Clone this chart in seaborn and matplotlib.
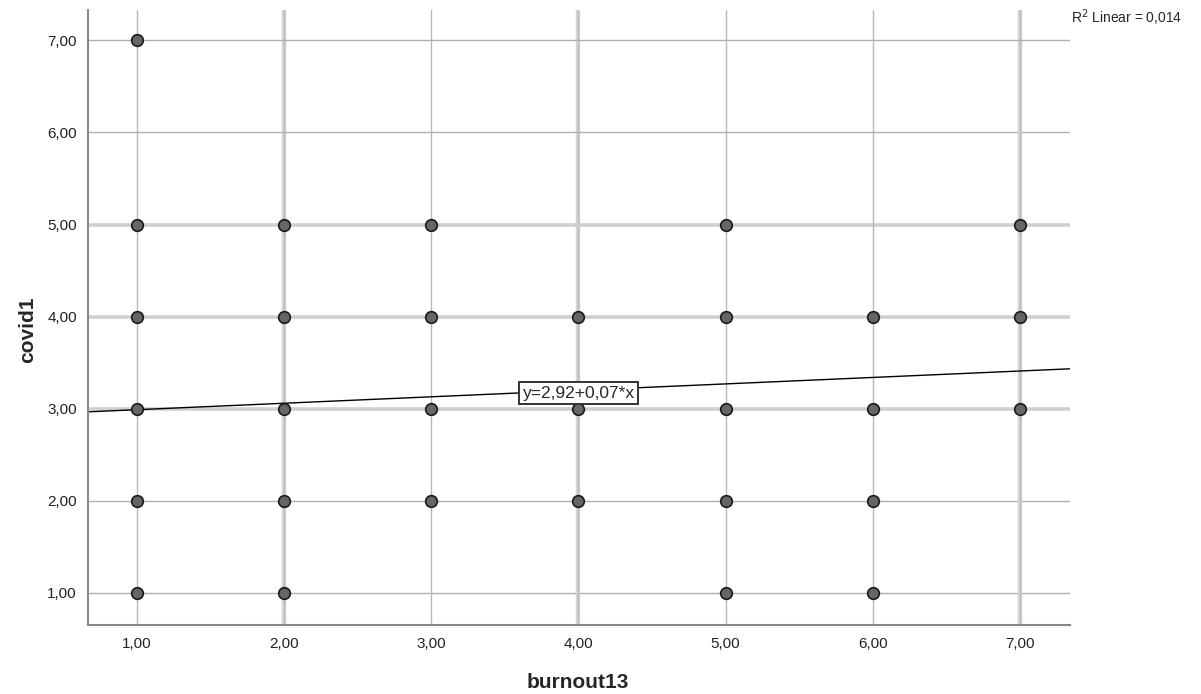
import matplotlib
matplotlib.use("Agg")
import matplotlib.pyplot as plt
import seaborn as sns
import pandas as pd

burnout13 = [1, 1, 1, 1, 1, 1,
             2, 2, 2, 2, 2,
             3, 3, 3, 3,
             4, 4, 4,
             5, 5, 5, 5, 5,
             6, 6, 6, 6,
             7, 7, 7]
covid1 = [7, 5, 4, 3, 2, 1,
          5, 4, 3, 2, 1,
          5, 4, 3, 2,
          4, 3, 2,
          5, 4, 3, 2, 1,
          4, 3, 2, 1,
          5, 4, 3]
intercept = 2.92
slope = 0.07
r2 = 0.014
ticks = [1, 2, 3, 4, 5, 6, 7]
tick_labels = ["1,00", "2,00", "3,00", "4,00", "5,00", "6,00", "7,00"]
thick_x = [2, 4, 7]
thick_y = [3, 4, 5]

df = pd.DataFrame({"burnout13": burnout13, "covid1": covid1})

sns.set_style("white")
plt.rcParams["font.family"] = ["Liberation Sans", "DejaVu Sans"]

fig = plt.figure(figsize=(12.01, 6.94), dpi=100)
ax = fig.add_axes([88/1201, 1-625/694, (1070-88)/1201, (625-10)/694])

ax.set_xlim(0.667, 7.34)
ax.set_ylim(0.652, 7.33)

for t in ticks:
    if t in thick_x:
        ax.axvline(t, color="#d4d4d4", lw=3.2, zorder=0)
        ax.axvline(t, color="#b8b8b8", lw=0.8, zorder=0)
    else:
        ax.axvline(t, color="#b8b8b8", lw=1.0, zorder=0)
    if t in thick_y:
        ax.axhline(t, color="#d0d0d0", lw=2.6, zorder=0)
    else:
        ax.axhline(t, color="#b0b0b0", lw=1.0, zorder=0)

sns.scatterplot(data=df, x="burnout13", y="covid1", ax=ax, s=70,
                color="#666666", edgecolor="#1a1a1a", linewidth=1.2, zorder=3)

xs = [0.667, 7.34]
ax.plot(xs, [intercept + slope * x for x in xs], color="black", lw=1.0, zorder=2)

ax.text(4, intercept + slope * 4 - 0.03, "y=2,92+0,07*x", ha="center", va="center",
        fontsize=12.5, zorder=5,
        bbox=dict(boxstyle="square,pad=0.2", fc="white", ec="#333333", lw=1.4))

fig.text(1071/1201, 1-18/694, "R$^2$ Linear = " + f"{r2:.3f}".replace(".", ","),
         ha="left", va="center", fontsize=10)

ax.set_xticks(ticks)
ax.set_xticklabels(tick_labels)
ax.set_yticks(ticks)
ax.set_yticklabels(tick_labels)
ax.tick_params(axis="both", length=0, labelsize=11, colors="#222222")
ax.tick_params(axis="x", pad=9)
ax.tick_params(axis="y", pad=8)

for side in ["top", "right"]:
    ax.spines[side].set_visible(False)
for side in ["left", "bottom"]:
    ax.spines[side].set_color("#888888")
    ax.spines[side].set_linewidth(1.5)

ax.set_xlabel("burnout13", fontsize=15, fontweight="bold", va="center")
ax.set_ylabel("covid1", fontsize=15, fontweight="bold", va="center")
ax.xaxis.set_label_coords((578-88)/982, -(683-625)/615)
ax.yaxis.set_label_coords(-(88-28)/982, (625-330)/615)

fig.savefig("out.png", dpi=100)
